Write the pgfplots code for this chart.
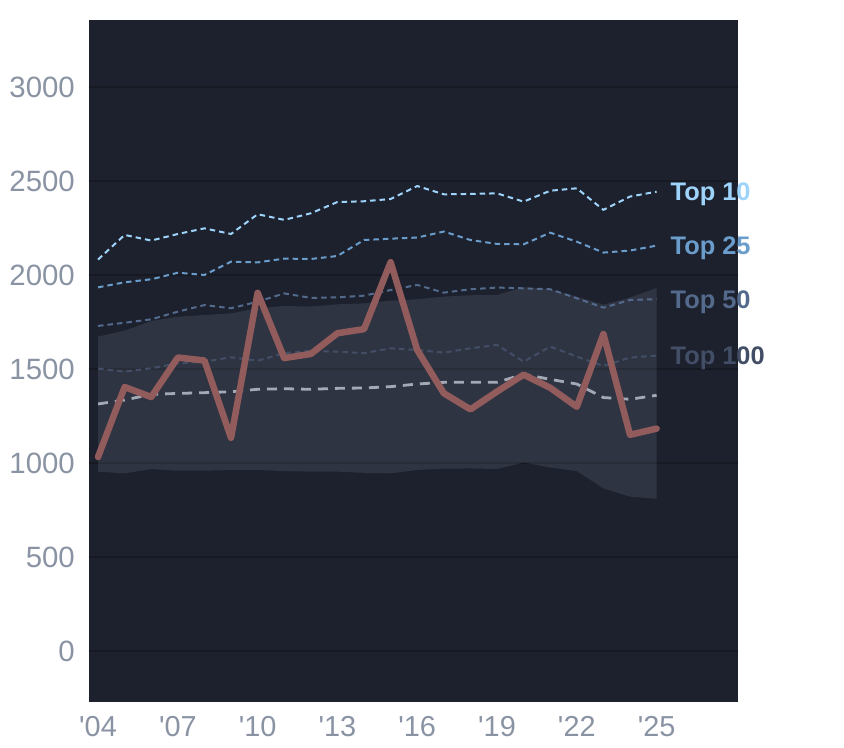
\documentclass[border=0pt]{standalone}
\usepackage{fontspec}
\setmainfont{Liberation Sans}[Ligatures=TeXOff]
\usepackage{pgfplots}
\pgfplotsset{compat=1.18}
\definecolor{bg}{HTML}{1D212D}
\definecolor{gridc}{HTML}{161922}
\definecolor{tickc}{HTML}{8A93A3}
\definecolor{bandc}{HTML}{8C94AA}
\definecolor{redc}{HTML}{935C5C}
\definecolor{medc}{HTML}{A3AAB6}
\definecolor{tten}{HTML}{9ED4FB}
\definecolor{ttf}{HTML}{6A9DCB}
\definecolor{tfif}{HTML}{536A8C}
\definecolor{thun}{HTML}{424E66}
\tikzset{toplab/.style={pos=1, anchor=base west, inner sep=0pt, xshift=13bp, yshift=-9bp, font=\fontsize{25.5}{25.5}\selectfont\bfseries}}
\begin{document}
\begin{tikzpicture}
\path[use as bounding box] (-89bp,-46bp) rectangle (755bp,702bp);
\begin{axis}[
  at={(0,0)}, anchor=south west,
  scale only axis, width=649bp, height=682bp,
  xmin=2003.66, xmax=2028.06, ymin=-271, ymax=3356,
  axis background/.style={fill=bg},
  axis line style={draw=none},
  major tick length=0pt,
  ymajorgrids, grid style={draw=gridc, line width=2bp},
  ytick={0,500,1000,1500,2000,2500,3000},
  xtick={2004,2007,2010,2013,2016,2019,2022,2025},
  xticklabels={'04,'07,'10,'13,'16,'19,'22,'25},
  /pgf/number format/assume math mode=true,
  /pgf/number format/1000 sep={},
  yticklabel style={font=\fontsize{29.5}{29.5}\selectfont, text=tickc, inner sep=0pt, anchor=east, xshift=-14bp},
  xticklabel style={font=\fontsize{29}{29}\selectfont, text=tickc, inner sep=0pt, anchor=north, yshift=-14.5bp},
  clip=false,
  every axis plot/.append style={line join=round},
]
% band
\addplot[draw=none, fill=bandc, fill opacity=0.17] coordinates {
(2004,1672)(2005,1704)(2006,1755)(2007,1778)(2008,1787)(2009,1796)(2010,1823)(2011,1835)(2012,1832)(2013,1844)(2014,1849)(2015,1863)(2016,1871)(2017,1885)(2018,1892)(2019,1894)(2020,1935)(2021,1924)(2022,1885)(2023,1842)(2024,1880)(2025,1931)
(2025,810)(2024,821)(2023,865)(2022,957)(2021,976)(2020,1003)(2019,968)(2018,971)(2017,970)(2016,963)(2015,945)(2014,948)(2013,954)(2012,954)(2011,957)(2010,963)(2009,963)(2008,959)(2007,959)(2006,968)(2005,945)(2004,954)
} -- cycle;
% Top 100
\addplot[thun, line width=2bp, dash pattern=on 5.5bp off 4bp] coordinates {
(2004,1502)(2005,1486)(2006,1504)(2007,1530)(2008,1539)(2009,1562)(2010,1544)(2011,1584)(2012,1597)(2013,1592)(2014,1584)(2015,1610)(2016,1601)(2017,1587)(2018,1610)(2019,1628)(2020,1539)(2021,1619)(2022,1566)(2023,1516)(2024,1561)(2025,1571)
} node[toplab, text=thun] {Top 100};
% Top 50
\addplot[tfif, line width=2bp, dash pattern=on 5.5bp off 4bp] coordinates {
(2004,1729)(2005,1746)(2006,1764)(2007,1805)(2008,1840)(2009,1823)(2010,1858)(2011,1902)(2012,1878)(2013,1881)(2014,1890)(2015,1920)(2016,1947)(2017,1906)(2018,1924)(2019,1933)(2020,1929)(2021,1924)(2022,1876)(2023,1826)(2024,1867)(2025,1871)
} node[toplab, text=tfif] {Top 50};
% Top 25
\addplot[ttf, line width=2bp, dash pattern=on 5.5bp off 4bp] coordinates {
(2004,1934)(2005,1961)(2006,1977)(2007,2012)(2008,2000)(2009,2071)(2010,2067)(2011,2087)(2012,2085)(2013,2101)(2014,2186)(2015,2193)(2016,2199)(2017,2231)(2018,2186)(2019,2165)(2020,2163)(2021,2225)(2022,2177)(2023,2119)(2024,2130)(2025,2156)
} node[toplab, text=ttf] {Top 25};
% Top 10
\addplot[tten, line width=2bp, dash pattern=on 5.5bp off 4bp] coordinates {
(2004,2082)(2005,2213)(2006,2183)(2007,2218)(2008,2248)(2009,2218)(2010,2323)(2011,2293)(2012,2328)(2013,2388)(2014,2392)(2015,2404)(2016,2473)(2017,2429)(2018,2431)(2019,2434)(2020,2390)(2021,2448)(2022,2461)(2023,2346)(2024,2417)(2025,2443)
} node[toplab, text=tten] {Top 10};
% median
\addplot[medc, line width=2.8bp, dash pattern=on 10bp off 7bp] coordinates {
(2004,1314)(2005,1335)(2006,1365)(2007,1370)(2008,1374)(2009,1379)(2010,1392)(2011,1395)(2012,1392)(2013,1397)(2014,1399)(2015,1406)(2016,1420)(2017,1429)(2018,1429)(2019,1429)(2020,1472)(2021,1445)(2022,1420)(2023,1348)(2024,1339)(2025,1360)
};
% main
\addplot[redc, line width=6.5bp, line cap=round] coordinates {
(2004,1032)(2005,1404)(2006,1351)(2007,1561)(2008,1545)(2009,1134)(2010,1905)(2011,1558)(2012,1580)(2013,1690)(2014,1712)(2015,2068)(2016,1601)(2017,1371)(2018,1285)(2019,1380)(2020,1470)(2021,1400)(2022,1299)(2023,1686)(2024,1150)(2025,1183)
};
\end{axis}
\end{tikzpicture}
\end{document}
